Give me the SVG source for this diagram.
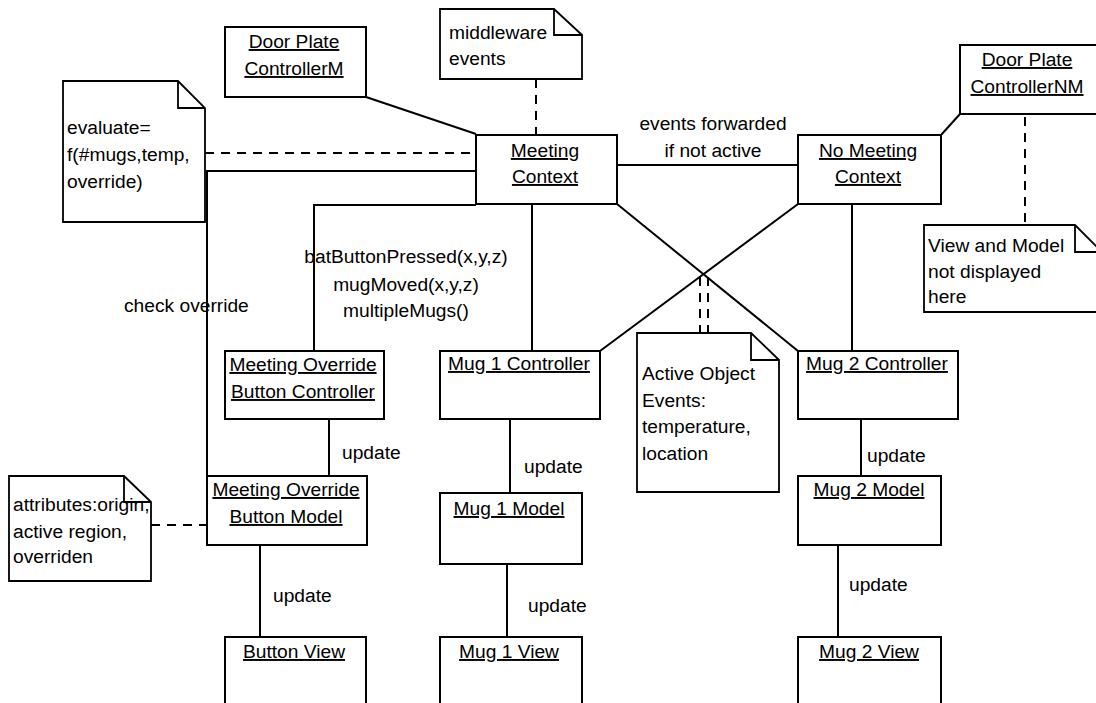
<svg xmlns="http://www.w3.org/2000/svg" width="1096" height="703" viewBox="0 0 1096 703">
<style>
text{font-family:"Liberation Sans",Arial,sans-serif;font-size:19.2px;fill:#000}
.u{text-decoration:underline}
.m{text-anchor:middle}
.box{fill:#fff;stroke:#000;stroke-width:2}
.note{fill:#fff;stroke:#000;stroke-width:1.8}
.fold{fill:none;stroke:#000;stroke-width:1.8}
.c{fill:none;stroke:#000;stroke-width:2}
.d{fill:none;stroke:#000;stroke-width:2;stroke-dasharray:9 7}
</style>
<rect width="1096" height="703" fill="#fff"/>
<g id="connectors">
<line class="c" x1="366" y1="97" x2="476" y2="134"/>
<line class="d" x1="536" y1="79" x2="536" y2="135"/>
<line class="d" x1="205" y1="153" x2="476" y2="153"/>
<polyline class="c" points="476,171 207,171 207,476"/>
<polyline class="c" points="476,205 314,205 314,351"/>
<line class="c" x1="532" y1="204" x2="532" y2="351"/>
<line class="c" x1="617" y1="204" x2="798" y2="351"/>
<line class="c" x1="798" y1="204" x2="600" y2="351"/>
<line class="c" x1="617" y1="165" x2="798" y2="165"/>
<line class="c" x1="960" y1="114" x2="941" y2="135"/>
<line class="d" x1="1025" y1="117" x2="1025" y2="225"/>
<line class="c" x1="852" y1="204" x2="852" y2="351"/>
<line class="d" x1="700" y1="277" x2="700" y2="333"/>
<line class="d" x1="708" y1="277" x2="708" y2="333"/>
<line class="c" x1="329" y1="419" x2="329" y2="476"/>
<line class="c" x1="510" y1="419" x2="510" y2="493"/>
<line class="c" x1="861" y1="419" x2="861" y2="476"/>
<line class="c" x1="260" y1="545" x2="260" y2="637"/>
<line class="c" x1="507" y1="564" x2="507" y2="637"/>
<line class="c" x1="838" y1="545" x2="838" y2="637"/>
<line class="d" x1="151" y1="525" x2="207" y2="525"/>
<text x="124" y="312">check override</text>
<text class="m" x="406" y="263">batButtonPressed(x,y,z)</text>
<text class="m" x="406" y="291">mugMoved(x,y,z)</text>
<text class="m" x="406" y="317">multipleMugs()</text>
<text class="m" x="713" y="130">events forwarded</text>
<text class="m" x="713" y="157">if not active</text>
<text x="342" y="459">update</text>
<text x="524" y="473">update</text>
<text x="867" y="462">update</text>
<text x="273" y="602">update</text>
<text x="528" y="612">update</text>
<text x="849" y="591">update</text>
</g>
<g id="doorPlateM">
<rect class="box" x="225" y="27" width="141" height="70"/>
<text class="u m" x="294" y="48">Door Plate</text>
<text class="u m" x="294" y="75">ControllerM</text>
</g>
<g id="noteEvaluate">
<path class="note" d="M63,81 H178 L205,108 V222 H63 Z"/>
<path class="fold" d="M178,81 V108 H205"/>
<text x="67" y="134">evaluate=</text>
<text x="67" y="161">f(#mugs,temp,</text>
<text x="67" y="188">override)</text>
</g>
<g id="noteMiddleware">
<path class="note" d="M440,9 H554 L582,35 V79 H440 Z"/>
<path class="fold" d="M554,9 V35 H582"/>
<text x="449" y="39">middleware</text>
<text x="449" y="65">events</text>
</g>
<g id="meetingContext">
<rect class="box" x="476" y="135" width="141" height="69"/>
<text class="u m" x="545" y="157">Meeting</text>
<text class="u m" x="545" y="183">Context</text>
</g>
<g id="noMeetingContext">
<rect class="box" x="798" y="135" width="143" height="69"/>
<text class="u m" x="868" y="157">No Meeting</text>
<text class="u m" x="868" y="183">Context</text>
</g>
<g id="doorPlateNM">
<rect class="box" x="960" y="45" width="140" height="69"/>
<text class="u m" x="1027" y="66">Door Plate</text>
<text class="u m" x="1027" y="93">ControllerNM</text>
</g>
<g id="noteViewModel">
<path class="note" d="M924,225 H1075 L1102,252 V312 H924 Z"/>
<path class="fold" d="M1075,225 V252 H1102"/>
<text x="928" y="252">View and Model</text>
<text x="928" y="278">not displayed</text>
<text x="928" y="303">here</text>
</g>
<g id="mobController">
<rect class="box" x="225" y="351" width="159" height="68"/>
<text class="u m" x="303" y="371">Meeting Override</text>
<text class="u m" x="303" y="398">Button Controller</text>
</g>
<g id="mug1Controller">
<rect class="box" x="440" y="351" width="160" height="68"/>
<text class="u m" x="519" y="370">Mug 1 Controller</text>
</g>
<g id="noteActive">
<path class="note" d="M637,333 H751 L779,360 V492 H637 Z"/>
<path class="fold" d="M751,333 V360 H779"/>
<text x="642" y="380">Active Object</text>
<text x="642" y="407">Events:</text>
<text x="642" y="433">temperature,</text>
<text x="642" y="460">location</text>
</g>
<g id="mug2Controller">
<rect class="box" x="798" y="351" width="160" height="68"/>
<text class="u m" x="877" y="370">Mug 2 Controller</text>
</g>
<g id="mobModel">
<rect class="box" x="207" y="476" width="160" height="69"/>
<text class="u m" x="286" y="496">Meeting Override</text>
<text class="u m" x="286" y="523">Button Model</text>
</g>
<g id="noteAttributes">
<path class="note" d="M9,476 H124 L151,502 V581 H9 Z"/>
<text x="13" y="511">attributes:origin,</text>
<text x="13" y="538">active region,</text>
<text x="13" y="563">overriden</text>
<path class="fold" d="M124,476 V502 H151"/>
</g>
<g id="mug1Model">
<rect class="box" x="440" y="493" width="142" height="71"/>
<text class="u m" x="509" y="515">Mug 1 Model</text>
</g>
<g id="mug2Model">
<rect class="box" x="798" y="476" width="143" height="69"/>
<text class="u m" x="869" y="496">Mug 2 Model</text>
</g>
<g id="buttonView">
<rect class="box" x="225" y="637" width="141" height="80"/>
<text class="u m" x="294" y="658">Button View</text>
</g>
<g id="mug1View">
<rect class="box" x="440" y="637" width="142" height="80"/>
<text class="u m" x="509" y="658">Mug 1 View</text>
</g>
<g id="mug2View">
<rect class="box" x="798" y="637" width="143" height="80"/>
<text class="u m" x="869" y="658">Mug 2 View</text>
</g>
</svg>
